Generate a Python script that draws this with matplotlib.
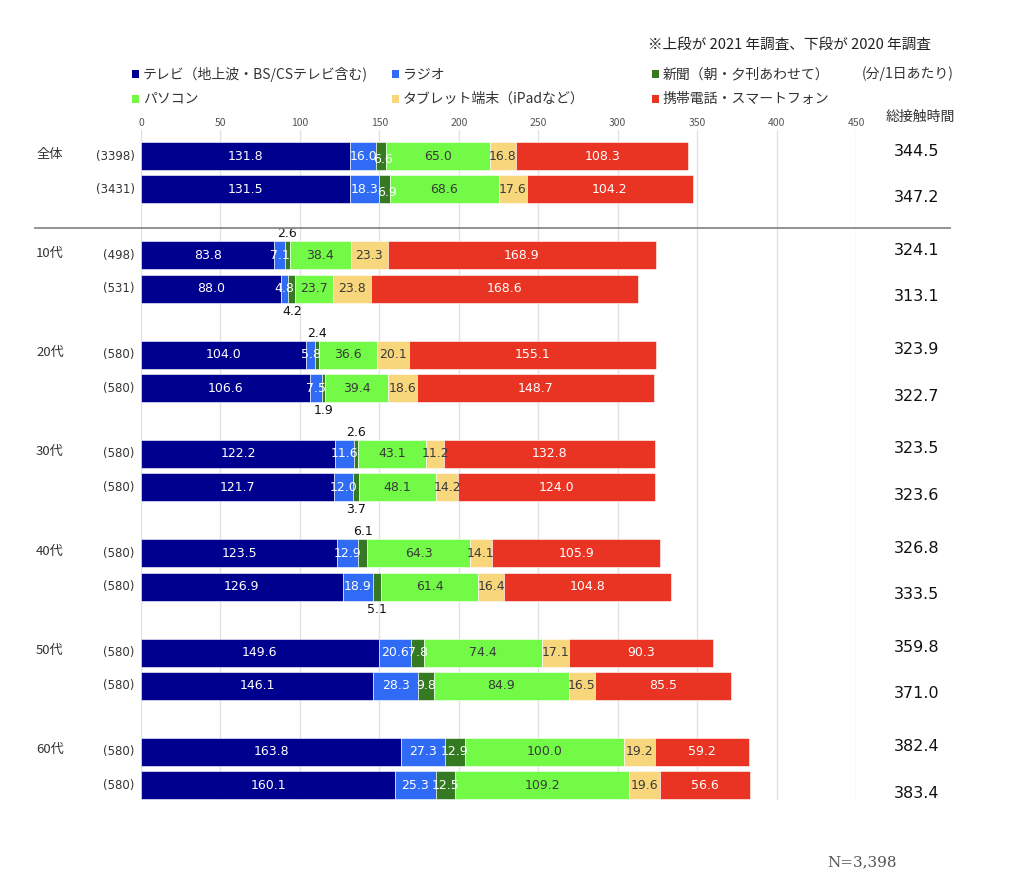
import matplotlib
matplotlib.use("Agg")
import matplotlib.pyplot as plt
from matplotlib.patches import Rectangle
from matplotlib.lines import Line2D

plt.rcParams['font.family'] = ['Noto Sans CJK JP', 'DejaVu Sans']

# データ（分/1日あたり）
groups = ["全体", "10代", "20代", "30代", "40代", "50代", "60代"]
samples_2021 = ["(3398)", "(498)", "(580)", "(580)", "(580)", "(580)", "(580)"]
samples_2020 = ["(3431)", "(531)", "(580)", "(580)", "(580)", "(580)", "(580)"]

media = ["テレビ（地上波・BS/CSテレビ含む)", "ラジオ", "新聞（朝・夕刊あわせて）",
         "パソコン", "タブレット端末（iPadなど）", "携帯電話・スマートフォン"]
colors = ["#00008F", "#2F6BF5", "#357A22", "#72FA47", "#F8D67C", "#E93424"]
text_colors = ["white", "white", "white", "#3a3a3a", "#3a3a3a", "white"]

tv_2021 = [131.8, 83.8, 104.0, 122.2, 123.5, 149.6, 163.8]
radio_2021 = [16.0, 7.1, 5.8, 11.6, 12.9, 20.6, 27.3]
paper_2021 = [6.6, 2.6, 2.4, 2.6, 6.1, 7.8, 12.9]
pc_2021 = [65.0, 38.4, 36.6, 43.1, 64.3, 74.4, 100.0]
tablet_2021 = [16.8, 23.3, 20.1, 11.2, 14.1, 17.1, 19.2]
mobile_2021 = [108.3, 168.9, 155.1, 132.8, 105.9, 90.3, 59.2]
total_2021 = [344.5, 324.1, 323.9, 323.5, 326.8, 359.8, 382.4]

tv_2020 = [131.5, 88.0, 106.6, 121.7, 126.9, 146.1, 160.1]
radio_2020 = [18.3, 4.8, 7.5, 12.0, 18.9, 28.3, 25.3]
paper_2020 = [6.9, 4.2, 1.9, 3.7, 5.1, 9.8, 12.5]
pc_2020 = [68.6, 23.7, 39.4, 48.1, 61.4, 84.9, 109.2]
tablet_2020 = [17.6, 23.8, 18.6, 14.2, 16.4, 16.5, 19.6]
mobile_2020 = [104.2, 168.6, 148.7, 124.0, 104.8, 85.5, 56.6]
total_2020 = [347.2, 313.1, 322.7, 323.6, 333.5, 371.0, 383.4]

series_2021 = [tv_2021, radio_2021, paper_2021, pc_2021, tablet_2021, mobile_2021]
series_2020 = [tv_2020, radio_2020, paper_2020, pc_2020, tablet_2020, mobile_2020]

W, H = 1024, 896
fig = plt.figure(figsize=(W / 100, H / 100), dpi=100)
ax = fig.add_axes([141 / W, 1 - 800 / H, 715 / W, 670 / H])

pair_gap = 0.337
bar_h = 0.282

ax.set_xlim(0, 450)
ax.set_ylim(6.485, -0.262)
ax.set_xticks(range(0, 451, 50))
ax.xaxis.tick_top()
ax.tick_params(axis='x', length=0, labelsize=7.5, colors="#555555", pad=1.5)
ax.set_yticks([])
for s in ax.spines.values():
    s.set_visible(False)
ax.grid(axis='x', color="#e2e2e2", linewidth=1)
ax.set_axisbelow(True)


def draw_bar(y, values, above):
    left = 0
    for k, v in enumerate(values):
        ax.barh(y, v, left=left, height=bar_h, color=colors[k],
                edgecolor="white", linewidth=0.4)
        cx = left + v / 2
        if k == 2 and v < 6.5:
            # 小さい値はバーの外に表示
            if above:
                ax.text(cx, y - bar_h / 2 - 0.01, f"{v:.1f}", ha='center', va='bottom',
                        fontsize=9, color="#111111", family='DejaVu Sans')
            else:
                ax.text(cx, y + bar_h / 2 + 0.02, f"{v:.1f}", ha='center', va='top',
                        fontsize=9, color="#111111", family='DejaVu Sans')
        else:
            dy = 0.035 if (k == 2 and v < 7.0) else 0
            ax.text(cx + (1.5 if dy else 0), y + dy, f"{v:.1f}", ha='center', va='center',
                    fontsize=9, color=text_colors[k], family='DejaVu Sans')
        left += v


for i in range(len(groups)):
    y1 = i
    y2 = i + pair_gap
    draw_bar(y1, [s[i] for s in series_2021], True)
    draw_bar(y2, [s[i] for s in series_2020], False)

    ax.text(-4, y1, samples_2021[i], ha='right', va='center', fontsize=8.5,
            color="#333333", family='DejaVu Sans')
    ax.text(-4, y2, samples_2020[i], ha='right', va='center', fontsize=8.5,
            color="#333333", family='DejaVu Sans')
    ax.text(-66, y1 - 0.02, groups[i], ha='left', va='center', fontsize=9.5, color="#333333")

    ax.text(488, y1 - 0.05, f"{total_2021[i]:.1f}", ha='center', va='center',
            fontsize=11.5, color="#111111", family='DejaVu Sans')
    ax.text(488, y2 + 0.08, f"{total_2020[i]:.1f}", ha='center', va='center',
            fontsize=11.5, color="#111111", family='DejaVu Sans')

# 全体と年代別の区切り線
fig.add_artist(Line2D([35 / W, 950 / W], [1 - 228 / H, 1 - 228 / H],
                      color="#8a8a8a", linewidth=1.3))

# 凡例
legend_pos = [(132, 74), (392, 74), (652, 74), (132, 99), (392, 99), (652, 99)]
for k, (px, py) in enumerate(legend_pos):
    fig.add_artist(Rectangle((px / W, 1 - (py + 4) / H), 7 / W, 8 / H,
                             facecolor=colors[k], edgecolor='none',
                             transform=fig.transFigure))
    fig.text((px + 11) / W, 1 - py / H, media[k], ha='left', va='center',
             fontsize=10, color="#333333")

fig.text(862 / W, 1 - 74 / H, "(分/1日あたり)", ha='left', va='center',
         fontsize=10, color="#333333")
fig.text(648 / W, 1 - 45 / H, "※上段が 2021 年調査、下段が 2020 年調査", ha='left',
         va='center', fontsize=10.5, color="#222222")
fig.text(920 / W, 1 - 117 / H, "総接触時間", ha='center', va='center',
         fontsize=10, color="#333333")
fig.text(827 / W, 1 - 862 / H, "N=3,398", ha='left', va='center',
         fontsize=11, color="#555555", family='DejaVu Serif')

fig.savefig("out.png", dpi=100)
